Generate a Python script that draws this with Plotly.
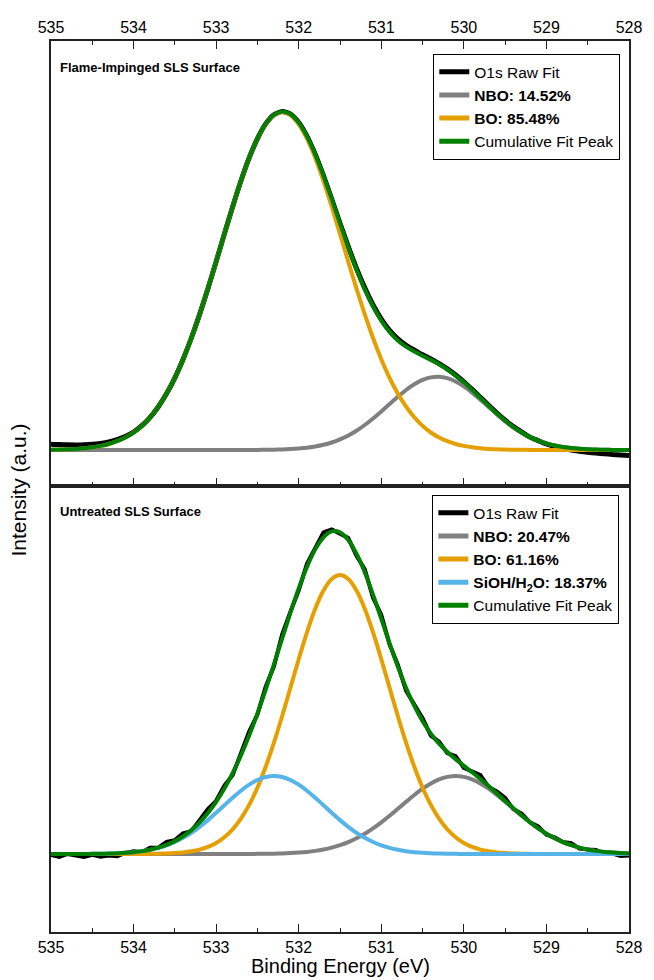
import plotly.graph_objects as go

# Binding energy grid (eV), 535.0 -> 528.0 in 0.1 eV steps
energy = [round(535.0 - 0.1 * i, 1) for i in range(71)]

# ---------------- Top panel: Flame-Impinged SLS Surface ----------------
top_bo = [0.3, 0.4, 0.7, 1.1, 1.8, 2.7, 4.1, 6.0, 8.8, 12.5,
          17.5, 24.1, 32.7, 43.3, 56.4, 72.2, 90.8, 112.0, 135.6, 161.3,
          188.4, 216.1, 243.3, 269.0, 292.1, 311.3, 325.9, 334.9, 338.0, 334.9,
          325.9, 311.3, 292.1, 269.0, 243.3, 216.1, 188.4, 161.3, 135.6, 112.0,
          90.8, 72.2, 56.4, 43.3, 32.7, 24.1, 17.5, 12.5, 8.8, 6.0,
          4.1, 2.7, 1.8, 1.1, 0.7, 0.4, 0.3, 0.2, 0.1, 0.1,
          0, 0, 0, 0, 0, 0, 0, 0, 0, 0, 0]
top_nbo = [0, 0, 0, 0, 0, 0, 0, 0, 0, 0,
           0, 0, 0, 0, 0, 0, 0, 0, 0, 0,
           0, 0, 0, 0, 0.05, 0.1, 0.2, 0.3, 0.5, 0.9,
           1.5, 2.3, 3.5, 5.2, 7.5, 10.6, 14.5, 19.3, 25.0, 31.5,
           38.6, 45.9, 53.2, 60.0, 65.7, 70.1, 72.6, 73.3, 71.8, 68.5,
           63.6, 57.4, 50.3, 43.0, 35.7, 28.8, 22.6, 17.3, 12.8, 9.3,
           6.5, 4.5, 3.0, 1.9, 1.2, 0.7, 0.4, 0.3, 0.1, 0.1,
           0.0]
# deviation of the raw O1s spectrum from the cumulative fit
top_raw_residual = [5.5, 5.0, 4.5, 4.0, 3.5, 3.0, 2.5, 2.0, 1.5, 1.0,
                    0.5, 0.3, 0, 0, 0, 0, 0, 0, 0, 0,
                    0, 0, 0, 0, 0, 0, 0, 0, 0, 0,
                    0, 0, 0, 0, 0, 0, 0.5, 1.0, 1.5, 1.5,
                    1.5, 1.5, 1.5, 1.5, 1.5, 1.0, 1.0, 0.5, 0.5, 0.5,
                    0.5, 0.5, 0.5, 0.5, 0.5, 0.5, 0.5, 0.5, 0, 0,
                    -0.5, -1.0, -1.5, -2.0, -2.5, -3.0, -3.5, -4.0, -4.5, -5.0,
                    -5.5]

# ---------------- Bottom panel: Untreated SLS Surface ----------------
bot_bo = [0, 0, 0, 0, 0, 0, 0, 0, 0, 0,
          0, 0.07, 0.14, 0.27, 0.5, 0.89, 1.56, 2.66, 4.39, 7.05,
          11.0, 16.7, 24.6, 35.3, 49.1, 66.3, 87.2, 111.3, 138.0, 166.4,
          194.8, 221.7, 245.2, 263.4, 275.0, 279.0, 275.0, 263.4, 245.2, 221.7,
          194.8, 166.4, 138.0, 111.3, 87.2, 66.3, 49.1, 35.3, 24.6, 16.7,
          11.0, 7.05, 4.39, 2.66, 1.56, 0.89, 0.5, 0.27, 0.14, 0.07,
          0, 0, 0, 0, 0, 0, 0, 0, 0, 0, 0]
bot_sioh = [0.01, 0.02, 0.02, 0.04, 0.08, 0.14, 0.25, 0.43, 0.71, 1.15,
            1.82, 2.79, 4.18, 6.10, 8.66, 12.0, 16.2, 21.2, 27.2, 33.9,
            41.2, 48.8, 56.3, 63.3, 69.4, 74.0, 77.0, 78.0, 77.0, 74.0,
            69.4, 63.3, 56.3, 48.8, 41.2, 33.9, 27.2, 21.2, 16.2, 12.0,
            8.66, 6.10, 4.18, 2.79, 1.82, 1.15, 0.71, 0.43, 0.25, 0.14,
            0.08, 0.04, 0.02, 0.01, 0, 0, 0, 0, 0, 0,
            0, 0, 0, 0, 0, 0, 0, 0, 0, 0, 0]
bot_nbo = [0, 0, 0, 0, 0, 0, 0, 0, 0, 0,
           0, 0, 0, 0, 0, 0, 0, 0, 0, 0,
           0, 0, 0.01, 0.04, 0.07, 0.13, 0.22, 0.36, 0.57, 0.91,
           1.40, 2.11, 3.12, 4.51, 6.37, 8.79, 11.9, 15.7, 20.3, 25.6,
           31.6, 38.2, 45.2, 52.2, 59.0, 65.3, 70.6, 74.6, 77.1, 78.0,
           77.1, 74.6, 70.6, 65.3, 59.0, 52.2, 45.2, 38.2, 31.6, 25.6,
           20.3, 15.7, 11.9, 8.79, 6.37, 4.51, 3.12, 2.11, 1.40, 0.91,
           0.57]
bot_raw_residual = [-1, -3, 0, -2, -3, -1, -3, -2, -3, 0,
                    1, -1, 2, 0, 3, 1, 3, -1, 2, 4,
                    1, 3, -2, 2, 4, -1, 3, -2, 4, 1,
                    -2, 3, 1, 5, 2, -1, 2, -2, 3, -3,
                    4, -1, 2, -3, 1, 3, -2, 2, -1, 3,
                    -2, 1, 4, -1, 2, 3, -1, 2, 0, 2,
                    -1, 1, 0, 2, -1, 0, 1, -2, -1, -3,
                    -2]

labels_top = ["O1s Raw Fit", "<b>NBO: 14.52%</b>", "<b>BO: 85.48%</b>", "Cumulative Fit Peak"]
labels_bot = ["O1s Raw Fit", "<b>NBO: 20.47%</b>", "<b>BO: 61.16%</b>",
              "<b>SiOH/H<sub>2</sub>O: 18.37%</b>", "Cumulative Fit Peak"]
x_ticks = [535, 534, 533, 532, 531, 530, 529, 528]

# derived series
top_cum = [a + b for a, b in zip(top_bo, top_nbo)]
top_raw = [c + r for c, r in zip(top_cum, top_raw_residual)]
bot_cum = [a + b + c for a, b, c in zip(bot_bo, bot_sioh, bot_nbo)]
bot_raw = [c + r for c, r in zip(bot_cum, bot_raw_residual)]

BLACK = "#000000"
GRAY = "#808080"
ORANGE = "#E69F00"
BLUE = "#56B4E9"
GREEN = "#008000"
FONT = "Liberation Sans, Arial, sans-serif"

fig = go.Figure()

# top panel
for y, name, col, w in [(top_raw, labels_top[0], BLACK, 5),
                        (top_nbo, labels_top[1], GRAY, 4),
                        (top_bo, labels_top[2], ORANGE, 4),
                        (top_cum, labels_top[3], GREEN, 4)]:
    fig.add_trace(go.Scatter(x=energy, y=y, name=name, mode="lines",
                             line=dict(color=col, width=w, shape="spline", smoothing=0.6),
                             xaxis="x2", yaxis="y2", legend="legend2"))

# bottom panel
for y, name, col, w, shp in [(bot_raw, labels_bot[0], BLACK, 4, "linear"),
                             (bot_nbo, labels_bot[1], GRAY, 4, "spline"),
                             (bot_bo, labels_bot[2], ORANGE, 4, "spline"),
                             (bot_sioh, labels_bot[3], BLUE, 4, "spline"),
                             (bot_cum, labels_bot[4], GREEN, 4, "spline")]:
    fig.add_trace(go.Scatter(x=energy, y=y, name=name, mode="lines",
                             line=dict(color=col, width=w, shape=shp),
                             xaxis="x", yaxis="y", legend="legend"))

AX = "#222222"
xcommon = dict(range=[535, 528], tickmode="array", tickvals=x_ticks,
               ticktext=[str(t) for t in x_ticks],
               ticks="inside", ticklen=8, tickwidth=1.3, tickcolor=AX,
               minor=dict(dtick=0.5, tick0=528, ticks="inside", ticklen=4.5,
                          tickwidth=1.3, tickcolor=AX, showgrid=False),
               showline=True, linecolor=AX, linewidth=1.5,
               showgrid=False, zeroline=False,
               tickfont=dict(family=FONT, size=16, color="#000"))
ycommon = dict(showticklabels=False, ticks="", showline=True, linecolor=AX,
               linewidth=1.5, mirror=True, showgrid=False, zeroline=False)

split = 446 / 891

legend_common = dict(font=dict(family=FONT, size=15.5, color="#000"),
                     bordercolor="#000", borderwidth=1.2, bgcolor="white",
                     xanchor="right", yanchor="top", tracegroupgap=0,
                     itemsizing="constant")

fig.update_layout(
    width=654, height=980,
    margin=dict(l=51, r=17, t=41, b=48),
    plot_bgcolor="white", paper_bgcolor="white",
    font=dict(family=FONT, color="#000"),
    xaxis=dict(**xcommon, anchor="y", side="bottom", mirror=True),
    xaxis2=dict(**xcommon, anchor="y2", side="top", mirror="ticks"),
    yaxis=dict(**ycommon, domain=[0, split], range=[-78, 368]),
    yaxis2=dict(**ycommon, domain=[split, 1], range=[-36, 409]),
    legend=dict(**legend_common, x=0.983, y=0.4905),
    legend2=dict(**legend_common, x=0.9846, y=0.9854),
    showlegend=True,
    annotations=[
        dict(text="<b>Flame-Impinged SLS Surface</b>", xref="paper", yref="paper",
             x=0.012, y=0.9697, xanchor="left", yanchor="middle", showarrow=False,
             font=dict(family=FONT, size=13, color="#000")),
        dict(text="<b>Untreated SLS Surface</b>", xref="paper", yref="paper",
             x=0.012, y=0.4714, xanchor="left", yanchor="middle", showarrow=False,
             font=dict(family=FONT, size=13, color="#000")),
        dict(text="Intensity (a.u.)", xref="paper", yref="paper",
             x=-0.0563, y=0.496, xanchor="center", yanchor="middle", textangle=-90,
             showarrow=False, font=dict(family=FONT, size=21, color="#000")),
        dict(text="Binding Energy (eV)", xref="paper", yref="paper",
             x=0.5, y=-0.0525, xanchor="center", yanchor="bottom",
             showarrow=False, font=dict(family=FONT, size=20, color="#000")),
    ],
)

fig.write_html("out.html")
